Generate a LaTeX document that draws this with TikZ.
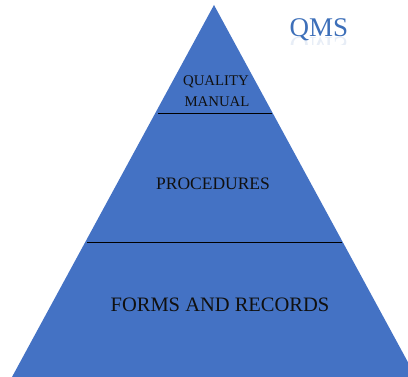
\documentclass[tikz,border=0pt]{standalone}
\usepackage{fontspec}
\setmainfont{Liberation Serif}
\definecolor{pyr}{HTML}{4472C4}
\definecolor{qmsblue}{HTML}{3D6FB9}
\definecolor{ink}{HTML}{101010}
\begin{document}
\begin{tikzpicture}[x=1pt,y=-1pt,
  lbl/.style={text=ink, align=center, inner sep=0pt},
  divider/.style={draw=black, line width=0.9pt}]
\useasboundingbox (0,0) rectangle (408,377);
\clip (0,0) rectangle (408,377);
% pyramid
\coordinate (apex) at (214,5);
\coordinate (bl) at (12,377);
\coordinate (br) at (416,377);
\fill[pyr] (apex) -- (br) -- (bl) -- cycle;
% dividers
\coordinate (d1l) at (158,113);
\coordinate (d1r) at (272,113);
\coordinate (d2l) at (87,242);
\coordinate (d2r) at (342,242);
\draw[divider] (d1l) -- (d1r);
\draw[divider] (d2l) -- (d2r);
% labels
\node[lbl, anchor=base, font=\fontsize{14.8}{21}\selectfont] (qual) at (216,86) {QUALITY};
\node[lbl, anchor=base, font=\fontsize{14.8}{21}\selectfont] (man) at (217,107) {MANUAL};
\node[lbl, anchor=base, font=\fontsize{17.5}{21}\selectfont] (proc) at (213,190) {PROCEDURES};
\node[lbl, anchor=base, font=\fontsize{20.5}{24}\selectfont] (forms) at (220,312) {FORMS AND RECORDS};
% title
\node[inner sep=0pt, anchor=base, text=qmsblue, font=\fontsize{27}{30}\selectfont] (qms) at (319,37) {QMS};
\begin{scope}
\clip (280,38) rectangle (360,45);
\node[inner sep=0pt, anchor=base, yscale=-1, text=qmsblue, text opacity=0.12, font=\fontsize{27}{30}\selectfont] (qmsr) at (319,38) {QMS};
\end{scope}
\end{tikzpicture}
\end{document}
